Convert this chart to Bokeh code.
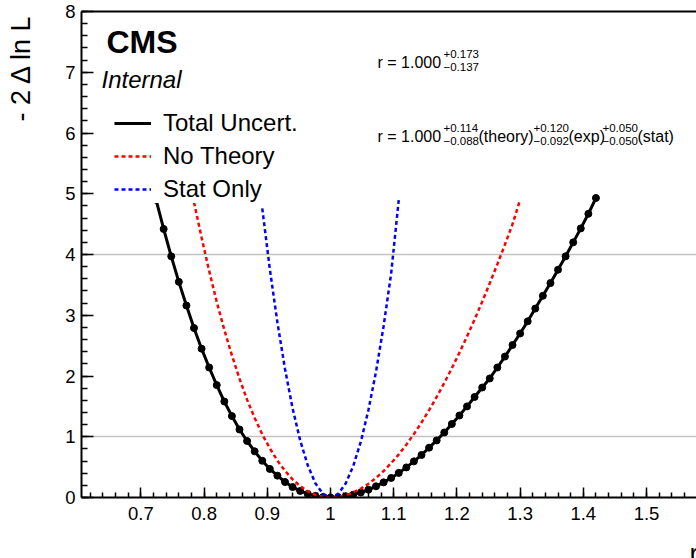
from math import pi

from bokeh.plotting import figure
from bokeh.models import (Range1d, FixedTicker, Label, Legend, LegendItem,
                          LinearAxis)
from bokeh.embed import file_html
from bokeh.resources import INLINE

# ---- likelihood scan points: POI value r and -2 Delta ln L ----
r_total = [0.724, 0.736, 0.748, 0.760, 0.772, 0.784, 0.796, 0.808, 0.820, 0.832,
           0.844, 0.856, 0.868, 0.880, 0.892, 0.904, 0.916, 0.928, 0.940, 0.952,
           0.964, 0.976, 0.988, 1.000, 1.012, 1.024, 1.036, 1.048, 1.060, 1.072,
           1.084, 1.096, 1.108, 1.120, 1.132, 1.144, 1.156, 1.168, 1.180, 1.192,
           1.204, 1.216, 1.228, 1.240, 1.252, 1.264, 1.276, 1.288, 1.300, 1.312,
           1.324, 1.336, 1.348, 1.360, 1.372, 1.384, 1.396, 1.408, 1.420]
nll_total = [4.90, 4.42, 3.97, 3.55, 3.16, 2.79, 2.45, 2.14, 1.85, 1.58,
             1.34, 1.12, 0.93, 0.76, 0.605, 0.47, 0.36, 0.255, 0.172, 0.108,
             0.059, 0.026, 0.0065, 0.0, 0.0053, 0.021, 0.047, 0.083, 0.129, 0.184,
             0.249, 0.322, 0.405, 0.495, 0.595, 0.70, 0.82, 0.94, 1.07, 1.21,
             1.35, 1.50, 1.655, 1.81, 1.96, 2.14, 2.32, 2.51, 2.70, 2.90,
             3.11, 3.32, 3.53, 3.75, 3.97, 4.20, 4.43, 4.67, 4.93]

r_notheory = [0.784, 0.796, 0.808, 0.820, 0.832, 0.844, 0.856, 0.868, 0.880, 0.892,
              0.904, 0.916, 0.928, 0.940, 0.952, 0.964, 0.976, 0.988, 1.000, 1.012,
              1.024, 1.036, 1.048, 1.060, 1.072, 1.084, 1.096, 1.108, 1.120, 1.132,
              1.144, 1.156, 1.168, 1.180, 1.192, 1.204, 1.216, 1.228, 1.240, 1.252,
              1.264, 1.276, 1.288, 1.300]
nll_notheory = [4.86, 4.28, 3.73, 3.22, 2.76, 2.34, 1.955, 1.61, 1.31, 1.04,
                0.81, 0.607, 0.438, 0.298, 0.187, 0.103, 0.045, 0.011, 0.0, 0.0093,
                0.037, 0.0825, 0.146, 0.226, 0.323, 0.436, 0.565, 0.71, 0.87, 1.045,
                1.234, 1.438, 1.655, 1.885, 2.128, 2.384, 2.652, 2.93, 3.224, 3.527,
                3.84, 4.164, 4.498, 4.90]

r_stat = [0.892, 0.904, 0.916, 0.928, 0.940, 0.952, 0.964, 0.976, 0.988, 1.000,
          1.012, 1.024, 1.036, 1.048, 1.060, 1.072, 1.084, 1.096, 1.108]
nll_stat = [4.76, 3.76, 2.88, 2.116, 1.469, 0.94, 0.529, 0.235, 0.059, 0.0,
            0.058, 0.23, 0.518, 0.92, 1.44, 2.07, 2.82, 3.69, 4.90]

# ---- fit summary ----
r_best = 1.000
total_hi, total_lo = 0.173, 0.137
theory_hi, theory_lo = 0.114, 0.088
exp_hi, exp_lo = 0.120, 0.092
stat_hi, stat_lo = 0.050, 0.050

# ---- axes ----
x_ticks = [0.7, 0.8, 0.9, 1.0, 1.1, 1.2, 1.3, 1.4, 1.5]
x_tick_labels = {0.7: "0.7", 0.8: "0.8", 0.9: "0.9", 1.0: "1", 1.1: "1.1",
                 1.2: "1.2", 1.3: "1.3", 1.4: "1.4", 1.5: "1.5"}
y_ticks = [0, 1, 2, 3, 4, 5, 6, 7, 8]
sigma_levels = [1, 4]
x_title = "r"
y_title = "- 2 \u0394 ln L"

FONT = "Liberation Sans"

p = figure(width=696, height=558, output_backend="svg", toolbar_location=None,
           x_range=Range1d(0.606, 1.5791), y_range=Range1d(0, 8),
           min_border_left=81, min_border_right=0, min_border_top=11,
           min_border_bottom=61)
p.outline_line_color = None
p.background_fill_color = "white"
p.border_fill_color = "white"

x_minor = [round(0.6 + 0.02 * i, 2) for i in range(0, 50)]
y_minor = [round(0.2 * i, 1) for i in range(0, 41)]

p.xaxis.ticker = FixedTicker(ticks=x_ticks, minor_ticks=x_minor)
p.xaxis.major_label_overrides = x_tick_labels
p.yaxis.ticker = FixedTicker(ticks=y_ticks, minor_ticks=y_minor)

for ax in (p.xaxis, p.yaxis):
    ax.axis_line_width = 2
    ax.axis_line_color = "black"
    ax.major_tick_line_color = "black"
    ax.minor_tick_line_color = "black"
    ax.major_tick_line_width = 1.5
    ax.minor_tick_line_width = 1.5
    ax.major_tick_out = 0
    ax.minor_tick_out = 0
    ax.major_label_text_font = FONT
    ax.major_label_text_font_size = "18.5px"
    ax.major_label_text_color = "black"

p.xaxis.major_tick_in = 10
p.xaxis.minor_tick_in = 5
p.xaxis.major_label_standoff = 9
p.yaxis.major_tick_in = 12
p.yaxis.minor_tick_in = 6
p.yaxis.major_label_standoff = 6

top_axis = LinearAxis(ticker=FixedTicker(ticks=[]), axis_line_width=2,
                      axis_line_color="black", major_tick_in=0, major_tick_out=0,
                      minor_tick_in=0, minor_tick_out=0)
p.add_layout(top_axis, "above")

p.xgrid.visible = False
p.ygrid.ticker = FixedTicker(ticks=sigma_levels)
p.ygrid.grid_line_color = "#c2c2c2"
p.ygrid.grid_line_width = 1.5

# ---- curves ----
l_tot = p.line(r_total, nll_total, line_color="black", line_width=3)
p.scatter(r_total, nll_total, size=7, color="black")
l_nth = p.line(r_notheory, nll_notheory, line_color="#ff0000", line_width=2.5,
               line_dash="4 3")
l_sta = p.line(r_stat, nll_stat, line_color="#0000ff", line_width=2.5,
               line_dash="4 3")

legend = Legend(items=[LegendItem(label="Total Uncert.", renderers=[l_tot]),
                       LegendItem(label="No Theory", renderers=[l_nth]),
                       LegendItem(label="Stat Only", renderers=[l_sta])],
                location=(33, 294), margin=0, padding=10, spacing=5,
                glyph_width=37, glyph_height=28, label_height=28,
                label_standoff=12, label_text_font=FONT,
                label_text_font_size="24px", label_text_color="black",
                border_line_color=None, background_fill_color="white",
                background_fill_alpha=1.0)
p.add_layout(legend)


def make_label(x, y, s, size, style="normal", **kw):
    return Label(x=x, y=y, x_units="screen", y_units="screen", text=s,
                 text_font=FONT, text_font_size=size, text_font_style=style,
                 text_color="black", text_baseline="alphabetic", **kw)


def txt(x, y, s, size, style="normal", **kw):
    p.add_layout(make_label(x, y, s, size, style, **kw))


# axis titles live in the side panels so they are not clipped by the frame
p.add_layout(make_label(-12, 376, y_title, "27px", angle=pi / 2,
                        text_align="left"), "left")
p.add_layout(make_label(608, -1, x_title, "27px"), "below")

# experiment labels
txt(25, 456, "CMS", "32px", "bold")
txt(20, 418, "Internal", "24px", "italic")

# fit results
main = f"r = {r_best:.3f}"
txt(296, 435, main, "16px")
txt(362, 444, f"+{total_hi:.3f}", "11.5px")
txt(362, 431, f"\u2212{total_lo:.3f}", "11.5px")

txt(296, 361, main, "16px")
txt(362, 370, f"+{theory_hi:.3f}", "11.5px")
txt(362, 357, f"\u2212{theory_lo:.3f}", "11.5px")
txt(397, 361, "(theory)", "16px")
txt(452, 370, f"+{exp_hi:.3f}", "11.5px")
txt(452, 357, f"\u2212{exp_lo:.3f}", "11.5px")
txt(487, 361, "(exp)", "16px")
txt(521, 370, f"+{stat_hi:.3f}", "11.5px")
txt(521, 357, f"\u2212{stat_lo:.3f}", "11.5px")
txt(556, 361, "(stat)", "16px")

open("out.html", "w").write(file_html(p, INLINE))
